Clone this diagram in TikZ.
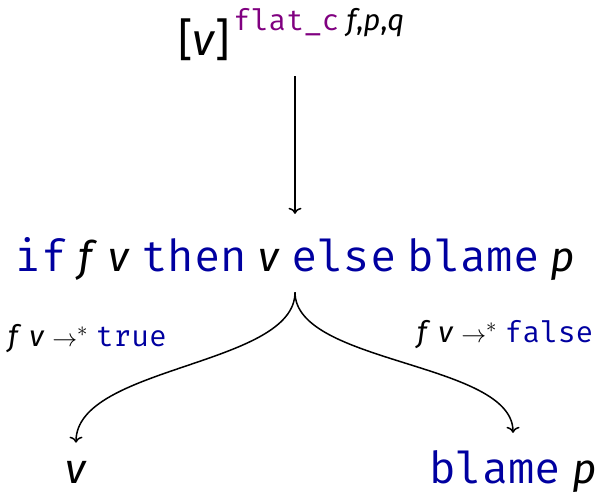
\documentclass[tikz,border=0pt]{standalone}
\usepackage{fontspec}
\setmainfont{Fira Sans}
\setmonofont{Fira Mono}
\usetikzlibrary{arrows.meta}
\definecolor{kwblue}{RGB}{0,0,160}
\definecolor{ctpurple}{RGB}{128,0,128}
\newcommand{\kwd}[1]{\textcolor{kwblue}{\ttfamily #1}}
\newcommand{\bkwd}[1]{\textcolor{kwblue}{\fontsize{44}{44}\selectfont\ttfamily #1}}
\newcommand{\ivar}[1]{\textit{#1}}
\begin{document}
\begin{tikzpicture}[x=1pt,y=-1pt,
  big/.style={font=\fontsize{42}{42}\selectfont, inner sep=0pt},
  topf/.style={font=\fontsize{45}{45}\selectfont, inner sep=0pt},
  lbl/.style={font=\fontsize{29.5}{29.5}\selectfont, inner sep=0pt},
  arr/.style={-{To[length=6pt,width=13pt]}, line width=1.5pt}]
\useasboundingbox (0,0) rectangle (597,492);
\node[topf, anchor=base west] (src) at (178,56) {[\ivar{v}]\raisebox{25pt}{\fontsize{29.5}{29.5}\selectfont\kern3pt{\ttfamily\color{ctpurple}flat\_c}\kern7pt\ivar{f},\ivar{p},\ivar{q}}};
\node[big, anchor=base] (mid) at (295,271) {\bkwd{if} \ivar{f} \ivar{v} \bkwd{then} \ivar{v} \bkwd{else} \bkwd{blame} \ivar{p}};
\node[lbl, anchor=base west] (lt) at (8,346) {\ivar{f} \ivar{v} $\to^{*}$ \kwd{true}};
\node[lbl, anchor=base west] (rt) at (417,342) {\ivar{f} \ivar{v} $\to^{*}$ \kwd{false}};
\node[big, anchor=base] (res1) at (76,483) {\ivar{v}};
\node[big, anchor=base] (res2) at (513,483) {\bkwd{blame} \ivar{p}};
\draw[arr, shorten <=15pt, shorten >=23pt] (src.south -| mid.north) -- (mid.north);
\draw[arr] ([yshift=-12pt]mid.south) .. controls +(0,74) and +(0,-77) .. ([yshift=18pt]res1.north);
\draw[arr] ([yshift=-12pt]mid.south) .. controls +(0,72) and +(0,-71) .. ([yshift=17pt]res2.north);
\end{tikzpicture}
\end{document}
